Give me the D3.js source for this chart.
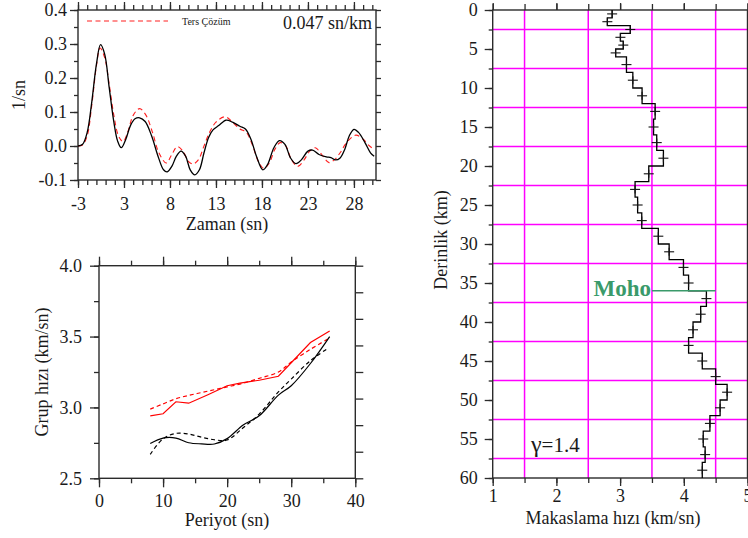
<!DOCTYPE html>
<html><head><meta charset="utf-8">
<script src="https://cdn.jsdelivr.net/npm/d3@7"></script>
<style>
body{margin:0;background:#fff}
svg{display:block}
text{font-family:"Liberation Serif","Times New Roman",serif;fill:#1a1a1a}
</style>
</head><body>
<svg id="c" width="748" height="538"></svg>
<script>
// ---------- Panel 1: receiver function ----------
const rfTime = [-2,-1.5,-1,-0.5,0,0.45,0.9,1.4,1.9,2.3,2.7,3.2,3.7,4.2,4.7,5.3,6.0,6.7,7.3,7.7,8.2,8.7,9.2,9.7,10.2,10.7,11.2,11.7,12.2,12.7,13.3,14.1,14.8,15.6,16.2,16.8,17.4,18.1,18.6,19.3,19.9,20.5,21.1,21.7,22.3,23.0,23.5,24.2,25.0,25.5,26.0,26.5,27.0,27.5,28.0,28.5,29.2,29.8,30.2];
const rfObserved = [0,0.005,0.04,0.13,0.24,0.298,0.27,0.17,0.07,0.015,-0.005,0.02,0.06,0.08,0.083,0.072,0.03,-0.03,-0.07,-0.076,-0.06,-0.03,-0.015,-0.03,-0.07,-0.085,-0.07,-0.02,0.025,0.048,0.06,0.076,0.07,0.058,0.05,0.02,-0.03,-0.07,-0.055,-0.005,0.016,0.005,-0.035,-0.052,-0.04,-0.015,-0.012,-0.025,-0.032,-0.034,-0.041,-0.035,-0.01,0.03,0.049,0.04,0.01,-0.02,-0.03];
const rfInvTime = [-2,-1.5,-1,-0.5,0,0.4,0.9,1.4,1.9,2.4,2.9,3.4,4.0,4.7,5.4,6.1,6.8,7.6,8.2,8.8,9.4,10.0,10.5,11.1,11.7,12.3,13.0,14.0,14.8,15.6,16.3,17.0,17.6,18.2,18.8,19.4,20.0,20.6,21.2,21.9,22.6,23.2,23.8,24.5,25.3,25.9,26.5,27.2,28.2,29.0,29.7,30.2];
const rfInverted = [0,0.003,0.03,0.12,0.235,0.288,0.26,0.18,0.09,0.03,0.013,0.04,0.09,0.11,0.09,0.04,-0.02,-0.05,-0.025,-0.002,-0.015,-0.045,-0.053,-0.04,0.0,0.04,0.07,0.086,0.07,0.05,0.04,0.0,-0.045,-0.066,-0.05,-0.01,0.01,0.0,-0.04,-0.06,-0.04,-0.015,-0.005,-0.025,-0.049,-0.04,-0.02,0.01,0.032,0.02,0.0,-0.01];
const rfXTicks = [-2,3,8,13,18,23,28];
const rfXTickLabels = ["-3","3","8","13","18","23","28"];
const rfYTicks = [-0.1,0,0.1,0.2,0.3,0.4];
const rfYTickLabels = ["-0.1","0.0","0.1","0.2","0.3","0.4"];

// ---------- Panel 2: dispersion ----------
const loveObsPeriod = [8,10,12,14,17,20,22,25,28,30,33,36];
const loveObs = [2.94,2.955,3.04,3.03,3.09,3.153,3.172,3.192,3.22,3.315,3.458,3.54];
const loveCalcPeriod = [8,10,12,14,16,18,20,22,25,28,30,33,36];
const loveCalc = [2.988,3.025,3.061,3.085,3.105,3.125,3.145,3.165,3.205,3.25,3.32,3.41,3.49];
const rayObsPeriod = [8,10,12,14,16,18,20,22.5,25,28,30,33,36];
const rayObs = [2.746,2.784,2.784,2.751,2.743,2.742,2.78,2.876,2.941,3.087,3.153,3.31,3.5];
const rayCalcPeriod = [8,10,12,14,16,18,20,22.5,25,28,30,33,35.5];
const rayCalc = [2.669,2.779,2.817,2.812,2.79,2.772,2.77,2.857,2.953,3.11,3.2,3.33,3.41];
const dispXTicks = [0,10,20,30,40];
const dispYTicks = [2.5,3.0,3.5,4.0];
const dispYTickLabels = ["2.5","3.0","3.5","4.0"];

// ---------- Panel 3: shear velocity profile ----------
const layerBounds = [0,1,2,3,4,5,6,8,10,12,14,16,18,20,22,24,26,28,30,32,34,36,38,40,42,44,46,48,50,52,54,56,58,60];
const layerVs = [2.875,2.80,3.16,3.005,3.05,2.93,3.10,3.20,3.345,3.55,3.525,3.575,3.68,3.45,3.235,3.275,3.34,3.60,3.77,3.995,4.075,4.355,4.265,4.145,4.075,4.29,4.50,4.68,4.57,4.41,4.305,4.335,4.29];
const vsXTicks = [1,2,3,4,5];
const depthTicks = [0,5,10,15,20,25,30,35,40,45,50,55,60];
const gridVs = [1.5,2.5,3.5,4.5];
const gridDepth = [2.5,7.5,12.5,17.5,22.5,27.5,32.5,37.5,42.5,47.5,52.5,57.5];
const mohoDepth = 36;
const mohoVsRange = [3.5,4.5];

const svg = d3.select("#c");
const AX = "#2b2b2b";
const FS = 18;

function styleAxis(g){
  g.select(".domain").remove();
  g.selectAll(".tick line").attr("stroke",AX).attr("stroke-width",1.3);
  g.selectAll(".tick text").attr("font-size",FS).attr("fill","#1a1a1a")
   .attr("font-family","'Liberation Serif','Times New Roman',serif");
  return g;
}
function addAxis(axis, tx, ty){
  return styleAxis(svg.append("g").attr("transform",`translate(${tx},${ty})`).call(axis));
}
const noLab = () => "";

// ===== Panel 1 =====
{
  const x = d3.scaleLinear().domain([-2,30.4]).range([78,376]);
  const y = d3.scaleLinear().domain([-0.1,0.4]).range([180,10]);
  const minorX = d3.range(-2,30.01,1);
  const minorY = d3.range(-0.1,0.401,0.05);
  addAxis(d3.axisBottom(x).tickValues(minorX).tickSize(5).tickFormat(noLab),0,180);
  addAxis(d3.axisBottom(x).tickValues(rfXTicks).tickSize(8).tickPadding(9).tickFormat((d,i)=>rfXTickLabels[i]),0,180);
  addAxis(d3.axisTop(x).tickValues(minorX).tickSize(5).tickFormat(noLab),0,10);
  addAxis(d3.axisTop(x).tickValues(rfXTicks).tickSize(8).tickFormat(noLab),0,10);
  addAxis(d3.axisLeft(y).tickValues(minorY).tickSize(4).tickFormat(noLab),78,0);
  addAxis(d3.axisLeft(y).tickValues(rfYTicks).tickSize(8).tickPadding(3).tickFormat((d,i)=>rfYTickLabels[i]),78,0);
  addAxis(d3.axisRight(y).tickValues(minorY).tickSize(5).tickFormat(noLab),376,0);
  svg.append("rect").attr("x",78).attr("y",10).attr("width",298).attr("height",170)
    .attr("fill","none").attr("stroke",AX).attr("stroke-width",1.4);

  const line = d3.line().x(d=>x(d[0])).y(d=>y(d[1])).curve(d3.curveCatmullRom.alpha(0.5));
  svg.append("path").datum(rfInvTime.map((t,i)=>[t,rfInverted[i]]))
    .attr("d",line).attr("fill","none").attr("stroke","#ff2020").attr("stroke-width",1.1)
    .attr("stroke-dasharray","5,3.5");
  svg.append("path").datum(rfTime.map((t,i)=>[t,rfObserved[i]]))
    .attr("d",line).attr("fill","none").attr("stroke","#000").attr("stroke-width",1.3);

  svg.append("line").attr("x1",87).attr("x2",168).attr("y1",21).attr("y2",21)
    .attr("stroke","#ff2020").attr("stroke-width",1.1).attr("stroke-dasharray","5,3.5");
  svg.append("text").attr("x",182).attr("y",25).attr("font-size",10).text("Ters Çözüm");
  svg.append("text").attr("x",372).attr("y",29).attr("text-anchor","end").attr("font-size",FS).text("0.047 sn/km");
  svg.append("text").attr("transform","translate(25,95) rotate(-90)").attr("text-anchor","middle")
    .attr("font-size",FS).text("1/sn");
  svg.append("text").attr("x",227).attr("y",230).attr("text-anchor","middle").attr("font-size",FS).text("Zaman (sn)");
}

// ===== Panel 2 =====
{
  const x = d3.scaleLinear().domain([0,40]).range([99,355.3]);
  const y = d3.scaleLinear().domain([2.5,4.0]).range([478.3,265.7]);
  const yr = d3.scaleLinear().domain([0,8]).range([478.3,265.7]);
  const minorX = d3.range(0,40.01,5);
  const minorY = d3.range(2.5,4.001,0.25);
  addAxis(d3.axisBottom(x).tickValues(minorX).tickSize(5).tickFormat(noLab),0,478.3);
  addAxis(d3.axisBottom(x).tickValues(dispXTicks).tickSize(9).tickPadding(7).tickFormat(d3.format("d")),0,478.3);
  addAxis(d3.axisTop(x).tickValues(minorX).tickSize(5).tickFormat(noLab),0,265.7);
  addAxis(d3.axisTop(x).tickValues(dispXTicks).tickSize(9).tickFormat(noLab),0,265.7);
  addAxis(d3.axisLeft(y).tickValues(minorY).tickSize(5).tickFormat(noLab),99,0);
  addAxis(d3.axisLeft(y).tickValues(dispYTicks).tickSize(9).tickPadding(8).tickFormat((d,i)=>dispYTickLabels[i]),99,0);
  addAxis(d3.axisRight(yr).tickValues(d3.range(0,8.01,1)).tickSize(8).tickFormat(noLab),355.3,0);
  svg.append("rect").attr("x",99).attr("y",265.7).attr("width",256.3).attr("height",212.6)
    .attr("fill","none").attr("stroke",AX).attr("stroke-width",1.4);

  const lin = d3.line().x(d=>x(d[0])).y(d=>y(d[1]));
  const smooth = d3.line().x(d=>x(d[0])).y(d=>y(d[1])).curve(d3.curveCatmullRom.alpha(0.5));
  const mk = (p,v)=>p.map((t,i)=>[t,v[i]]);
  svg.append("path").datum(mk(loveCalcPeriod,loveCalc)).attr("d",smooth).attr("fill","none")
    .attr("stroke","#ff0000").attr("stroke-width",1.2).attr("stroke-dasharray","4,3");
  svg.append("path").datum(mk(loveObsPeriod,loveObs)).attr("d",lin).attr("fill","none")
    .attr("stroke","#ff0000").attr("stroke-width",1.2);
  svg.append("path").datum(mk(rayCalcPeriod,rayCalc)).attr("d",smooth).attr("fill","none")
    .attr("stroke","#000").attr("stroke-width",1.2).attr("stroke-dasharray","4,3");
  svg.append("path").datum(mk(rayObsPeriod,rayObs)).attr("d",smooth).attr("fill","none")
    .attr("stroke","#000").attr("stroke-width",1.2);

  svg.append("text").attr("transform","translate(48,372) rotate(-90)").attr("text-anchor","middle")
    .attr("font-size",FS).text("Grup hızı (km/sn)");
  svg.append("text").attr("x",227).attr("y",526).attr("text-anchor","middle").attr("font-size",FS).text("Periyot (sn)");
}

// ===== Panel 3 =====
{
  const x = d3.scaleLinear().domain([1,5]).range([492.7,747.5]);
  const y = d3.scaleLinear().domain([0,60]).range([10,478]);
  svg.append("g").selectAll("line").data(gridVs).join("line")
    .attr("x1",d=>x(d)).attr("x2",d=>x(d)).attr("y1",y(0)).attr("y2",y(60))
    .attr("stroke","#ff00ff").attr("stroke-width",1.5);
  svg.append("g").selectAll("line").data(gridDepth).join("line")
    .attr("x1",x(1)).attr("x2",x(5)).attr("y1",d=>y(d)).attr("y2",d=>y(d))
    .attr("stroke","#ff00ff").attr("stroke-width",1.5);

  const minorX = d3.range(1,5.01,0.5);
  addAxis(d3.axisBottom(x).tickValues(minorX).tickSize(5).tickFormat(noLab),0,478);
  addAxis(d3.axisBottom(x).tickValues(vsXTicks).tickSize(8).tickPadding(3).tickFormat(d3.format("d")),0,478);
  addAxis(d3.axisTop(x).tickValues(minorX).tickSize(6).tickFormat(noLab),0,10);
  addAxis(d3.axisTop(x).tickValues(vsXTicks).tickSize(7).tickFormat(noLab),0,10);
  addAxis(d3.axisLeft(y).tickValues(d3.range(0,60.01,2.5)).tickSize(4).tickFormat(noLab),492.7,0);
  addAxis(d3.axisLeft(y).tickValues(depthTicks).tickSize(8).tickPadding(7).tickFormat(d3.format("d")),492.7,0);
  svg.append("rect").attr("x",492.7).attr("y",10).attr("width",254.8).attr("height",468)
    .attr("fill","none").attr("stroke",AX).attr("stroke-width",1.4);

  const pts = [];
  layerVs.forEach((v,i)=>{ pts.push([v,layerBounds[i]]); pts.push([v,layerBounds[i+1]]); });
  svg.append("path").datum(pts).attr("d",d3.line().x(d=>x(d[0])).y(d=>y(d[1])))
    .attr("fill","none").attr("stroke","#000").attr("stroke-width",1.3);
  const mids = layerVs.map((v,i)=>[v,(layerBounds[i]+layerBounds[i+1])/2]);
  const cross = svg.append("g").selectAll("g").data(mids).join("g")
    .attr("transform",d=>`translate(${x(d[0])},${y(d[1])})`);
  cross.append("line").attr("x1",-5).attr("x2",5).attr("stroke","#111").attr("stroke-width",1.1);
  cross.append("line").attr("y1",-4).attr("y2",4).attr("stroke","#111").attr("stroke-width",1.1);

  svg.append("line").attr("x1",x(mohoVsRange[0])).attr("x2",x(mohoVsRange[1]))
    .attr("y1",y(mohoDepth)).attr("y2",y(mohoDepth)).attr("stroke","#3a9a6a").attr("stroke-width",1.6);
  svg.append("text").attr("x",x(mohoVsRange[0])-1).attr("y",y(mohoDepth)+5).attr("text-anchor","end")
    .attr("font-size",23).attr("font-weight","bold").style("fill","#3a9a6a").text("Moho");
  const g = svg.append("text").attr("x",531).attr("y",452).attr("font-size",21);
  g.append("tspan").attr("font-size",24).text("γ");
  g.append("tspan").text("=1.4");

  svg.append("text").attr("transform","translate(447,240) rotate(-90)").attr("text-anchor","middle")
    .attr("font-size",FS).text("Derinlik (km)");
  svg.append("text").attr("x",613).attr("y",524).attr("text-anchor","middle").attr("font-size",FS).text("Makaslama hızı (km/sn)");
}
</script>
</body></html>
